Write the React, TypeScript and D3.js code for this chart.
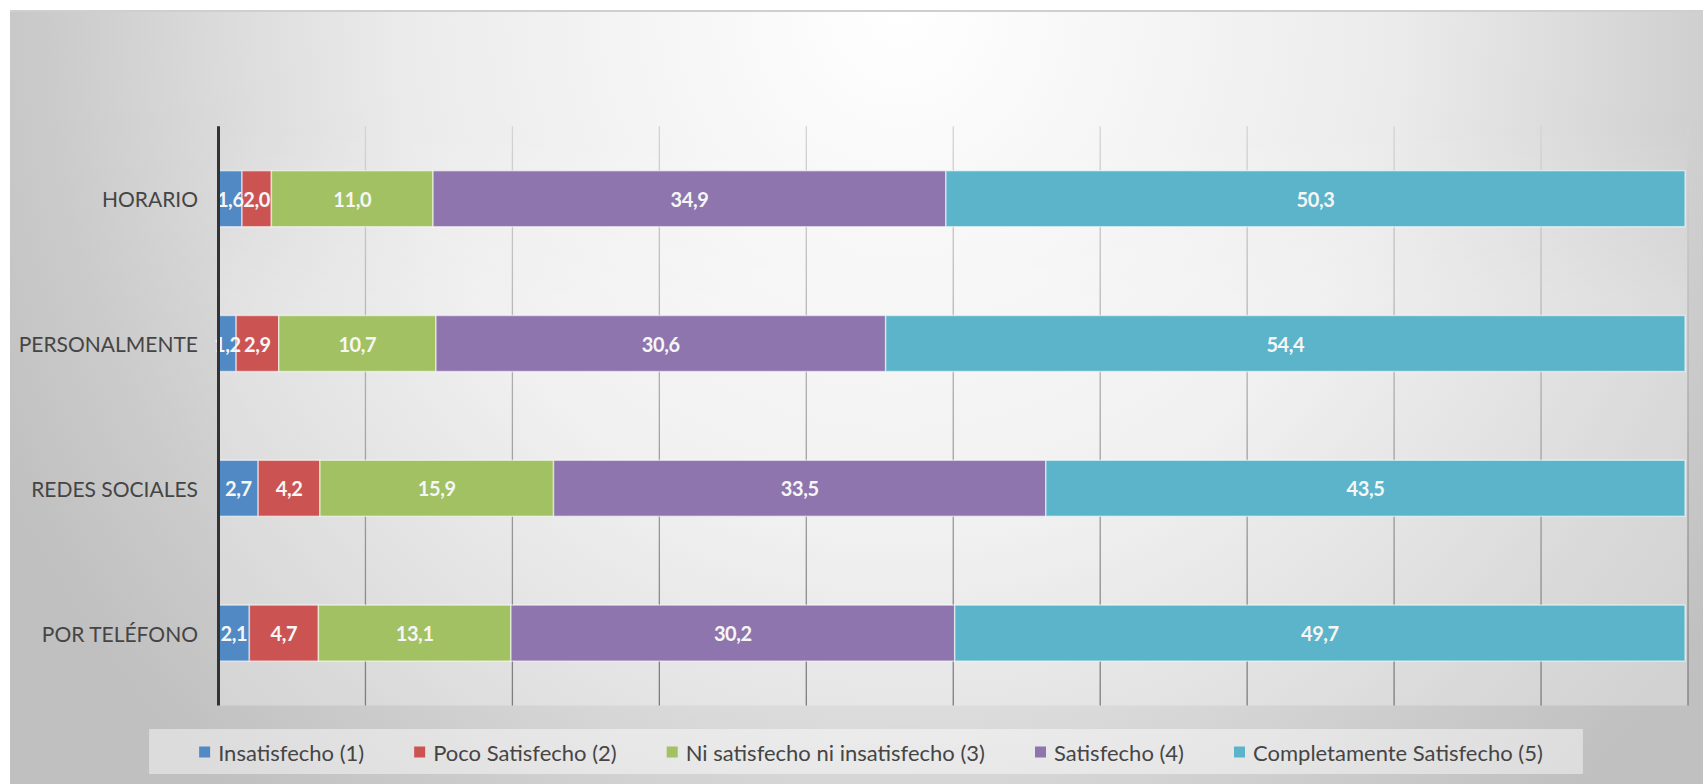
import React, { useEffect, useRef } from "react";
import * as d3 from "d3";

const categories = ["HORARIO", "PERSONALMENTE", "REDES SOCIALES", "POR TELÉFONO"];
const seriesNames = [
  "Insatisfecho (1)",
  "Poco Satisfecho (2)",
  "Ni satisfecho ni insatisfecho (3)",
  "Satisfecho (4)",
  "Completamente Satisfecho (5)",
];
const insatisfecho = [1.6, 1.2, 2.7, 2.1];
const pocoSatisfecho = [2.0, 2.9, 4.2, 4.7];
const niSatisfecho = [11.0, 10.7, 15.9, 13.1];
const satisfecho = [34.9, 30.6, 33.5, 30.2];
const completamente = [50.3, 54.4, 43.5, 49.7];
const seriesColors = ["#5189c4", "#cb5453", "#a2c163", "#8f75ad", "#5bb4c9"];
const xTicks = [0, 10, 20, 30, 40, 50, 60, 70, 80, 90, 100];

const W = 1703;
const H = 784;
const FONT = "Lato, 'Open Sans', sans-serif";

export default function App() {
  const ref = useRef<SVGSVGElement | null>(null);

  useEffect(() => {
    const svg = d3.select(ref.current);
    svg.selectAll("*").remove();

    const defs = svg.append("defs");
    const bg = defs
      .append("radialGradient")
      .attr("id", "bgGrad")
      .attr("gradientUnits", "userSpaceOnUse")
      .attr("cx", 900)
      .attr("cy", 10)
      .attr("r", 1000)
      .attr("gradientTransform", "translate(900,10) scale(1,1.05) translate(-900,-10)");
    [
      [0, "#ffffff"],
      [0.25, "#f5f5f5"],
      [0.5, "#ebebeb"],
      [0.7, "#d9d9d9"],
      [0.85, "#cbcbcb"],
      [1, "#c0c0c0"],
    ].forEach(([o, c]) => bg.append("stop").attr("offset", o as number).attr("stop-color", c as string));

    const gridGrad = defs
      .append("linearGradient")
      .attr("id", "gridGrad")
      .attr("gradientUnits", "userSpaceOnUse")
      .attr("x1", 0)
      .attr("x2", 0)
      .attr("y1", 127)
      .attr("y2", 704);
    gridGrad.append("stop").attr("offset", 0).attr("stop-color", "#d4d4d4");
    gridGrad.append("stop").attr("offset", 1).attr("stop-color", "#7c7c7c");

    const plotGrad = defs
      .append("linearGradient")
      .attr("id", "plotGrad")
      .attr("gradientUnits", "userSpaceOnUse")
      .attr("x1", 0)
      .attr("x2", 0)
      .attr("y1", 127)
      .attr("y2", 300);
    plotGrad.append("stop").attr("offset", 0).attr("stop-color", "#ffffff").attr("stop-opacity", 0);
    plotGrad.append("stop").attr("offset", 1).attr("stop-color", "#ffffff").attr("stop-opacity", 0.28);

    // background
    svg
      .append("rect")
      .attr("x", 10)
      .attr("y", 10)
      .attr("width", W - 10)
      .attr("height", H - 10)
      .attr("fill", "url(#bgGrad)");
    svg
      .append("line")
      .attr("x1", 10)
      .attr("x2", W)
      .attr("y1", 11)
      .attr("y2", 11)
      .attr("stroke", "#cfcfcf")
      .attr("stroke-width", 2);

    const x = d3.scaleLinear().domain([0, 100]).range([218.5, 1688]);
    const y = d3
      .scaleBand<string>()
      .domain(categories)
      .range([126.3, 705.5])
      .paddingInner(0.613)
      .paddingOuter(0.3065);

    const [y0, y1] = y.range();

    // plot area overlay
    svg
      .append("rect")
      .attr("x", x(0))
      .attr("y", y0)
      .attr("width", x(100) - x(0))
      .attr("height", y1 - y0)
      .attr("fill", "url(#plotGrad)");

    // gridlines
    svg
      .append("g")
      .selectAll("line")
      .data(xTicks.slice(1))
      .join("line")
      .attr("x1", (d) => x(d))
      .attr("x2", (d) => x(d))
      .attr("y1", y0)
      .attr("y2", y1)
      .attr("stroke", "url(#gridGrad)")
      .attr("stroke-width", 1.3);

    // stacked data
    const seriesValues = [insatisfecho, pocoSatisfecho, niSatisfecho, satisfecho, completamente];
    const rows = categories.map((c, i) => {
      const r: any = { cat: c };
      seriesNames.forEach((s, k) => (r[s] = seriesValues[k][i]));
      return r;
    });
    const stack = d3.stack<any>().keys(seriesNames)(rows);

    const g = svg.append("g");
    stack.forEach((layer, k) => {
      const lg = g.append("g");
      lg.selectAll("rect")
        .data(layer)
        .join("rect")
        .attr("x", (d) => x(d[0]))
        .attr("y", (d) => y(d.data.cat)!)
        .attr("width", (d) => x(d[1]) - x(d[0]))
        .attr("height", y.bandwidth())
        .attr("fill", seriesColors[k])
        .attr("stroke", "#ffffff")
        .attr("stroke-opacity", 0.55)
        .attr("stroke-width", 1.5);
    });
    stack.forEach((layer) => {
      g.append("g")
        .selectAll("text")
        .data(layer)
        .join("text")
        .attr("x", (d) => (x(d[0]) + x(d[1])) / 2)
        .attr("y", (d) => y(d.data.cat)! + y.bandwidth() / 2)
        .attr("text-anchor", "middle")
        .attr("dominant-baseline", "central")
        .attr("font-family", FONT)
        .attr("font-weight", "bold")
        .attr("font-size", 20)
        .attr("letter-spacing", -0.4)
        .attr("fill", "#f6f6f6")
        .text((d) => d3.format(".1f")(d[1] - d[0]).replace(".", ","));
    });

    // axis line
    svg
      .append("line")
      .attr("x1", x(0))
      .attr("x2", x(0))
      .attr("y1", y0)
      .attr("y2", y1)
      .attr("stroke", "#333333")
      .attr("stroke-width", 3);

    // category labels
    svg
      .append("g")
      .selectAll("text")
      .data(categories)
      .join("text")
      .attr("x", 198)
      .attr("y", (d) => y(d)! + y.bandwidth() / 2)
      .attr("text-anchor", "end")
      .attr("dominant-baseline", "central")
      .attr("font-family", FONT)
      .attr("font-size", 21)
      .attr("fill", "#454545")
      .text((d) => d);

    // legend
    const legend = svg.append("g");
    const box = legend.append("rect");
    const items = seriesNames.map((name, k) => {
      const t = legend
        .append("text")
        .attr("font-family", FONT)
        .attr("font-size", 22)
        .attr("fill", "#454545")
        .attr("dominant-baseline", "central")
        .attr("y", 752)
        .text(name);
      const w = (t.node() as SVGTextElement).getComputedTextLength();
      return { t, w, k };
    });
    const sw = 11;
    const gapSw = 8;
    const gapItem = 50;
    const total = items.reduce((a, it) => a + sw + gapSw + it.w, 0) + gapItem * (items.length - 1);
    let cx = 871 - total / 2;
    const startX = cx;
    items.forEach((it) => {
      legend
        .append("rect")
        .attr("x", cx)
        .attr("y", 746.5)
        .attr("width", sw)
        .attr("height", sw)
        .attr("fill", seriesColors[it.k]);
      it.t.attr("x", cx + sw + gapSw);
      cx += sw + gapSw + it.w + gapItem;
    });
    const endX = cx - gapItem;
    box
      .attr("x", startX - 50)
      .attr("y", 729)
      .attr("width", endX - startX + 90)
      .attr("height", 45)
      .attr("fill", "#ffffff")
      .attr("fill-opacity", 0.45);
  }, []);

  return (
    <svg
      ref={ref}
      width={W}
      height={H}
      style={{ position: "absolute", left: 0, top: 0, display: "block" }}
    />
  );
}
